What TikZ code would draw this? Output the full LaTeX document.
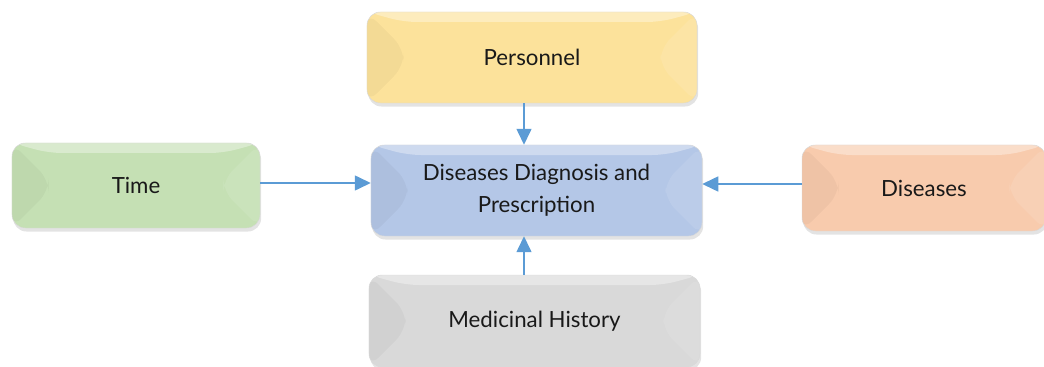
\documentclass[tikz,border=0pt]{standalone}
\usepackage{fontspec}
\setmainfont{Lato}
\usetikzlibrary{arrows.meta,shadows}

\definecolor{yelbox}{HTML}{FCE29B}
\definecolor{bluebox}{HTML}{B4C7E7}
\definecolor{greenbox}{HTML}{C5E0B4}
\definecolor{peachbox}{HTML}{F8CBAD}
\definecolor{graybox}{HTML}{D9D9D9}
\definecolor{arrblue}{HTML}{5B9BD5}

\tikzset{
  btn/.style={draw=black!15, line width=.4pt, rounded corners=.4cm, fill=#1,
    inner sep=0pt, align=center, text=black!90, font=\fontsize{19}{27}\selectfont,
    drop shadow={opacity=.22, shadow xshift=1pt, shadow yshift=-3pt},
    path picture={
      % bevel: light top, darker left side, lighter right side
      \fill[white, opacity=.35] (path picture bounding box.north west) -- (path picture bounding box.north east)
        -- ([shift={(-1.1cm,-.3cm)}]path picture bounding box.north east)
        -- ([shift={(1.1cm,-.3cm)}]path picture bounding box.north west) -- cycle;
      \fill[black, opacity=.035] (path picture bounding box.north west)
        -- ([shift={(1.1cm,-1.1cm)}]path picture bounding box.north west)
        -- ([shift={(1.1cm,1.1cm)}]path picture bounding box.south west)
        -- (path picture bounding box.south west) -- cycle;
      \fill[white, opacity=.1] (path picture bounding box.north east)
        -- ([shift={(-1.1cm,-1.1cm)}]path picture bounding box.north east)
        -- ([shift={(-1.1cm,1.1cm)}]path picture bounding box.south east)
        -- (path picture bounding box.south east) -- cycle;
    }},
  link/.style={draw=arrblue, line width=1.3pt, -{Triangle[length=.48cm, width=.45cm]}}
}

\begin{document}
\begin{tikzpicture}[x=.03cm, y=-.03cm]
    \useasboundingbox (0, 0) rectangle (1044, 366);

    \node[btn=yelbox, minimum width=9.9cm, minimum height=2.73cm] (pers) at (532, 57.5) {Personnel};
    \node[btn=bluebox, minimum width=9.93cm, minimum height=2.73cm] (diag) at (536.5, 190.5) {Diseases Diagnosis and\\Prescription};
    \node[btn=greenbox, minimum width=7.44cm, minimum height=2.55cm] (time) at (136, 185.5) {Time};
    \node[btn=peachbox, minimum width=7.32cm, minimum height=2.58cm] (dis) at (924, 188) {Diseases};
    \node[btn=graybox, minimum width=9.93cm, minimum height=2.76cm] (hist) at (534.5, 321) {Medicinal History};

    \draw[link] ([xshift=-.24cm]pers.south) -- ([xshift=-.375cm]diag.north);
    \draw[link] ([xshift=-.315cm]hist.north) -- ([xshift=-.375cm]diag.south);
    \draw[link] ([yshift=.075cm]time.east) -- ([yshift=.225cm]diag.west);
    \draw[link] ([yshift=.12cm]dis.west) -- ([yshift=.195cm]diag.east);
\end{tikzpicture}
\end{document}
